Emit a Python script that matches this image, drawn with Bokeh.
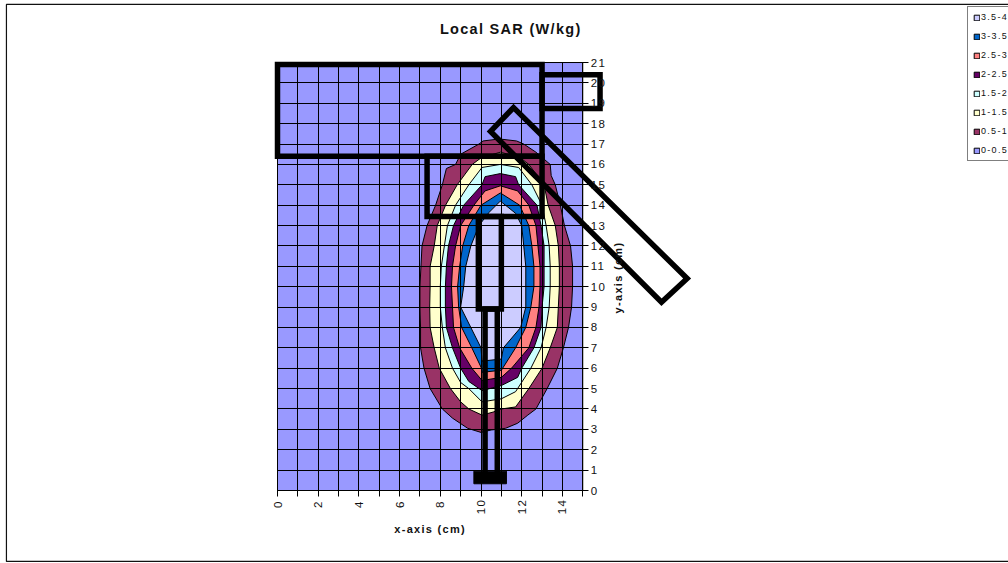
import math
from bokeh.plotting import figure
from bokeh.models import Range1d, LinearAxis, SingleIntervalTicker, Legend, LegendItem, Label, Grid
from bokeh.embed import file_html
from bokeh.resources import INLINE

FONT = "Liberation Sans"
level_labels = ["0-0.5", "0.5-1", "1-1.5", "1.5-2", "2-2.5", "2.5-3", "3-3.5", "3.5-4"]
level_colors = ["#9999FF", "#993366", "#FFFFCC", "#CCFFFF", "#660066", "#FF8080", "#0066CC", "#CCCCFF"]

sheet_x = [0, 15, 15, 0]
sheet_y = [0, 0, 21, 21]

c05_x = [10.9, 11.75, 12.1, 12.7, 13.4, 13.45, 13.65, 13.9, 14.1, 14.4, 14.5, 14.5, 14.45, 14.3, 14.05, 13.75, 13.25, 12.7, 12.3, 11.8, 11.2, 10.5, 10.0, 9.35, 8.6, 8.1, 7.5, 7.2, 7.03, 7.03, 7.0, 7.0, 7.05, 7.1, 7.35, 7.77, 8.1, 8.3, 8.75, 9.0, 9.9, 10.1]
c05_y = [17.25, 17.15, 17, 16.6, 16, 15.45, 15, 14, 13, 12, 11, 10, 9, 8, 7, 6, 5, 4, 3.7, 3.3, 3.05, 2.97, 2.85, 3.05, 3.55, 4, 5, 6, 7, 8, 9, 10, 11, 12, 13, 14, 15, 15.8, 16, 16.5, 17, 17.15]
c10_x = [10.95, 11.9, 12.35, 13.1, 13.3, 13.65, 13.8, 13.85, 13.85, 13.8, 13.75, 13.4, 13.0, 12.35, 11.7, 11.0, 10.6, 10.05, 9.4, 9.0, 8.5, 7.95, 7.7, 7.5, 7.48, 7.5, 7.5, 7.7, 7.85, 8.26, 8.83, 9.57, 10.0]
c10_y = [16.6, 16.35, 16, 15, 14, 13, 12, 11, 10, 9, 8, 7, 6, 5, 4.1, 4, 3.85, 3.7, 4, 4.35, 5, 6, 7, 8, 9, 10, 11, 12, 13, 14, 15, 16, 16.32]
c15_x = [10.95, 11.85, 12.5, 13.0, 13.2, 13.35, 13.4, 13.4, 13.35, 13.2, 12.95, 12.45, 11.7, 11.0, 10.05, 9.4, 9.0, 8.6, 8.25, 8.1, 8.0, 8.0, 8.05, 8.2, 8.35, 8.75, 9.4, 10.05]
c15_y = [16, 15.85, 15, 14, 13, 12, 11, 10, 9, 8, 7, 6, 4.85, 4.5, 4.35, 5, 5.3, 6, 7, 8, 9, 10, 11, 12, 13, 14, 15, 15.85]
c20_x = [10.95, 11.7, 11.85, 12.75, 12.95, 13.1, 13.1, 13.1, 13.0, 12.95, 12.6, 12.0, 11.8, 11.0, 10.05, 9.4, 9.0, 8.6, 8.3, 8.25, 8.25, 8.3, 8.4, 8.65, 9.15, 10.05, 10.2]
c20_y = [15.55, 15.4, 15, 14, 13, 12, 11, 10, 9, 8, 7, 6, 5.55, 5.15, 4.9, 5.35, 6, 7, 8, 9, 10, 11, 12, 13, 14, 15, 15.4]
c25_x = [10.95, 11.8, 12.35, 12.7, 12.8, 12.9, 12.9, 12.85, 12.7, 12.35, 11.5, 11.0, 10.05, 9.55, 8.95, 8.65, 8.6, 8.55, 8.6, 8.75, 9.0, 9.65, 10.2]
c25_y = [14.95, 14.7, 14, 13, 12, 11, 10, 9, 8, 7, 6, 5.55, 5.4, 6, 7, 8, 9, 10, 11, 12, 13, 14, 14.7]
c30_x = [10.95, 11.9, 12.35, 12.5, 12.6, 12.6, 12.45, 12.2, 11.7, 11.0, 10.05, 10.0, 9.55, 9.05, 8.9, 8.85, 8.95, 9.1, 9.4, 10.0]
c30_y = [14.6, 14, 13, 12, 11, 10, 9, 8, 7, 5.9, 5.8, 6.05, 7, 8, 9, 10, 11, 12, 13, 14]
c35_x = [10.95, 11.7, 12.0, 12.1, 12.2, 12.2, 12.2, 11.95, 11.1, 11.0, 10.05, 10.0, 9.5, 9.0, 9.15, 9.25, 9.5, 9.9, 10.4]
c35_y = [14.2, 13.6, 13, 12, 11, 10, 9, 8, 7, 6.45, 6.35, 7, 8, 9, 10, 11, 12, 13, 13.65]

shape_xs = [
    [0, 13, 13, 0],
    [13, 15.85, 15.85, 13],
    [7.35, 13, 13, 7.35],
    [9.87, 11, 11, 9.87],
    [10.2, 10.8, 10.8, 10.2],
    [10.47, 11.6, 20.13, 18.87],
]
shape_ys = [
    [16.4, 16.4, 20.9, 20.9],
    [18.75, 18.75, 20.4, 20.4],
    [13.45, 13.45, 16.4, 16.4],
    [8.9, 8.9, 13.45, 13.45],
    [0.75, 0.75, 8.9, 8.9],
    [17.62, 18.79, 10.4, 9.24],
]
block_x = [9.65, 11.25]
block_y = [0.33, 0.95]

p = figure(width=1008, height=563, output_backend="svg", toolbar_location=None,
           x_axis_type=None, y_axis_type=None, min_border=0,
           x_range=Range1d(-277 / 20.35, (1008 - 277) / 20.35),
           y_range=Range1d((490 - 563) / 20.38, 490 / 20.38))
p.outline_line_color = None
p.background_fill_color = "white"
p.border_fill_color = "white"
p.styles = {"letter-spacing": "1.3px"}

p.quad(left=[-13.32], right=[40], bottom=[-3.48], top=[23.85], fill_color=None,
       line_color="#111111", line_width=1.2)

all_x = [sheet_x, c05_x, c10_x, c15_x, c20_x, c25_x, c30_x, c35_x]
all_y = [sheet_y, c05_y, c10_y, c15_y, c20_y, c25_y, c30_y, c35_y]
rs = []
for xs, ys, col in zip(all_x, all_y, level_colors):
    rs.append(p.patch(xs, ys, fill_color=col, line_color="black", line_width=1))

x_ticker = SingleIntervalTicker(interval=1, num_minor_ticks=0)
y_ticker = SingleIntervalTicker(interval=1, num_minor_ticks=0)
x_axis = LinearAxis(fixed_location=0, ticker=x_ticker,
                    bounds=(0, 15), major_label_orientation=math.pi / 2,
                    major_label_overrides={i: "" for i in range(1, 16, 2)},
                    major_tick_in=0, major_tick_out=6, minor_tick_line_color=None,
                    axis_line_color="black", major_tick_line_color="black",
                    major_label_text_font=FONT, major_label_text_font_size="11.5px",
                    major_label_text_color="#111111", major_label_standoff=5)
y_axis = LinearAxis(fixed_location=15, ticker=y_ticker,
                    bounds=(0, 21), major_tick_in=0, major_tick_out=6, minor_tick_line_color=None,
                    axis_line_color="black", major_tick_line_color="black",
                    major_label_text_font=FONT, major_label_text_font_size="11.5px",
                    major_label_text_color="#111111", major_label_standoff=2)
p.add_layout(x_axis, "below")
p.add_layout(y_axis, "right")
x_grid = Grid(dimension=0, ticker=x_ticker, bounds=(0, 15), cross_bounds=(0, 21),
              grid_line_color="black", grid_line_width=1, level="guide")
y_grid = Grid(dimension=1, ticker=y_ticker, bounds=(0, 21), cross_bounds=(0, 15),
              grid_line_color="black", grid_line_width=1, level="guide")
p.add_layout(x_grid)
p.add_layout(y_grid)

p.patches(shape_xs, shape_ys, fill_color=None, line_color="black", line_width=5.5, line_join="miter")
p.quad(left=[block_x[0]], right=[block_x[1]], bottom=[block_y[0]], top=[block_y[1]],
       fill_color="black", line_color="black")

for txt, x, y, ang, size in [
    ("Local SAR (W/kg)", 10.95, 22.65, 0, "14.5px"),
    ("x-axis (cm)", 7.15, -1.9, 0, "11px"),
    ("y-axis (cm)", 16.75, 10.1, math.pi / 2, "11px"),
]:
    p.add_layout(Label(x=x, y=y, text=txt, angle=ang, text_font=FONT, text_font_style="bold",
                       text_font_size=size, text_align="center", text_baseline="middle",
                       text_color="#111111"))

items = [LegendItem(label=l, renderers=[r]) for l, r in zip(level_labels[::-1], rs[::-1])]
legend = Legend(items=items, location=(967, 402), orientation="vertical",
                glyph_width=7, glyph_height=7, label_text_font=FONT, label_text_font_size="9px",
                label_text_color="#111111", label_standoff=1, label_height=10, spacing=9,
                padding=5, margin=0, border_line_color="black", border_line_width=1,
                background_fill_color="white", background_fill_alpha=1)
p.add_layout(legend, "center")

open("out.html", "w").write(file_html(p, INLINE))
